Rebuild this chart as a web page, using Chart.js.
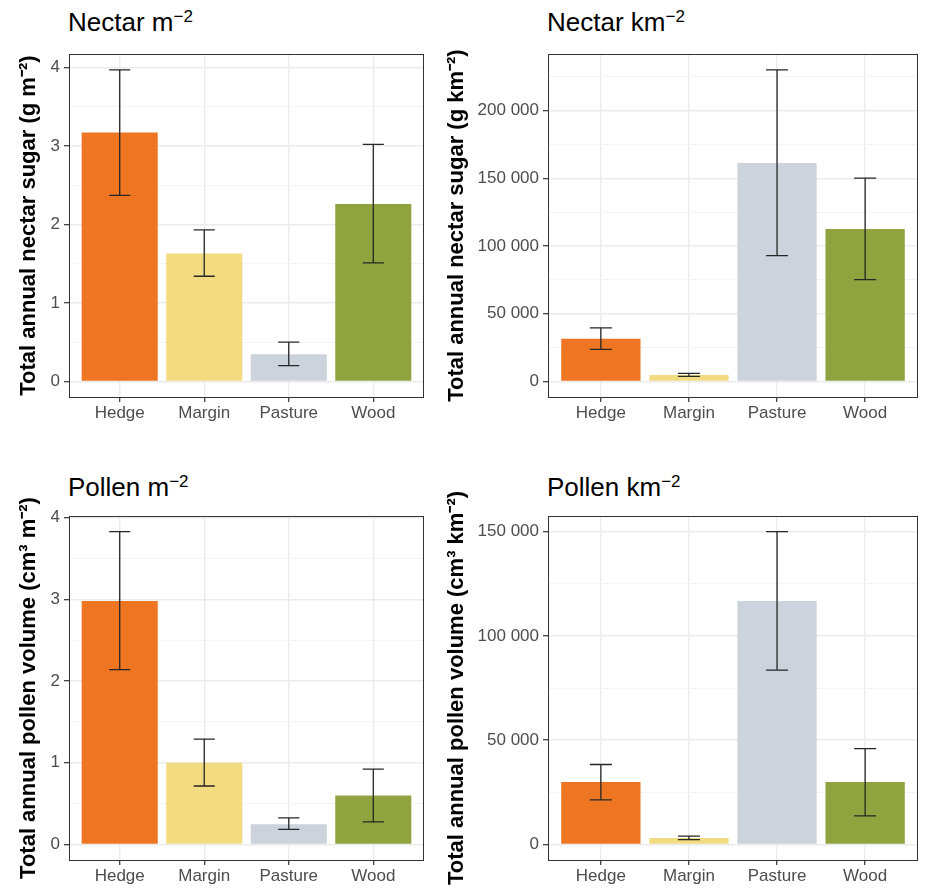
<!DOCTYPE html>
<html>
<head>
<meta charset="utf-8">
<script src="https://cdn.jsdelivr.net/npm/chart.js@4.4.1/dist/chart.umd.min.js"></script>
<style>
body { margin: 0; background: #fff; }
#wrap { position: relative; width: 925px; height: 889px; overflow: hidden; font-family: 'Liberation Sans', Arial, sans-serif; }
canvas { position: absolute; }
.ttl { position: absolute; font-size: 26px; line-height: 26px; color: #000; white-space: nowrap; }
.ttl span { font-size: 17px; position: relative; top: -9px; }
</style>
</head>
<body>
<div id="wrap">
  <div class="ttl" style="left:68px;top:9px">Nectar m<span>−2</span></div>
  <div class="ttl" style="left:547px;top:9px">Nectar km<span>−2</span></div>
  <div class="ttl" style="left:68px;top:474px">Pollen m<span>−2</span></div>
  <div class="ttl" style="left:547px;top:474px">Pollen km<span>−2</span></div>
  <canvas id="c1" width="440" height="405" style="left:0;top:40px"></canvas>
  <canvas id="c2" width="485" height="405" style="left:440px;top:40px"></canvas>
  <canvas id="c3" width="440" height="409" style="left:0;top:480px"></canvas>
  <canvas id="c4" width="485" height="409" style="left:440px;top:480px"></canvas>
</div>
<script>
var categories = ["Hedge", "Margin", "Pasture", "Wood"];
var barColors = ["#EE7623", "#F3DB82", "#CDD3DC", "#8FA43F"];

// nectar per m2
var nectarM2 = [3.17, 1.63, 0.345, 2.26];
var nectarM2Low = [2.37, 1.34, 0.20, 1.51];
var nectarM2High = [3.97, 1.93, 0.50, 3.02];
var nectarM2Ticks = [0, 1, 2, 3, 4];

// nectar per km2
var nectarKm2 = [31500, 4800, 161500, 112600];
var nectarKm2Low = [23700, 3700, 93000, 75200];
var nectarKm2High = [39600, 5900, 230300, 150200];
var nectarKm2Ticks = [0, 50000, 100000, 150000, 200000];

// pollen per m2
var pollenM2 = [2.98, 1.0, 0.247, 0.597];
var pollenM2Low = [2.14, 0.715, 0.183, 0.276];
var pollenM2High = [3.83, 1.29, 0.325, 0.922];
var pollenM2Ticks = [0, 1, 2, 3, 4];

// pollen per km2
var pollenKm2 = [29900, 3000, 116700, 29900];
var pollenKm2Low = [21300, 2240, 83600, 13700];
var pollenKm2High = [38300, 3960, 150000, 45900];
var pollenKm2Ticks = [0, 50000, 100000, 150000];

Chart.defaults.font.family = "'Liberation Sans', Arial, sans-serif";
Chart.defaults.color = "#4d4d4d";

function fmt(v) {
    return String(v).replace(/\B(?=(\d{3})+(?!\d))/g, " ");
}

var frame = {
    id: "frame",
    afterDraw: function (chart) {
        var a = chart.chartArea, ctx = chart.ctx;
        ctx.save();
        ctx.strokeStyle = "#333333";
        ctx.lineWidth = 1;
        ctx.strokeRect(Math.round(a.left) + 0.5, Math.round(a.top) + 0.5,
            Math.round(a.right - a.left) - 1, Math.round(a.bottom - a.top));
        ctx.restore();
    }
};

function errorBars(low, high) {
    return {
        id: "errbars",
        afterDatasetsDraw: function (chart) {
            var x = chart.scales.x, y = chart.scales.y, ctx = chart.ctx;
            var cap = (x.getPixelForValue(2) - x.getPixelForValue(1)) * 0.125;
            ctx.save();
            ctx.strokeStyle = "#262626";
            ctx.lineWidth = 1.3;
            for (var i = 0; i < categories.length; i++) {
                var px = x.getPixelForValue(i + 1);
                var y1 = y.getPixelForValue(high[i]);
                var y2 = y.getPixelForValue(low[i]);
                ctx.beginPath();
                ctx.moveTo(px, y1); ctx.lineTo(px, y2);
                ctx.moveTo(px - cap, y1); ctx.lineTo(px + cap, y1);
                ctx.moveTo(px - cap, y2); ctx.lineTo(px + cap, y2);
                ctx.stroke();
            }
            ctx.restore();
        }
    };
}

function makePanel(id, values, low, high, majors, yTitle, p) {
    var lo = Math.min(0, Math.min.apply(null, low));
    var hi = Math.max.apply(null, high);
    var pad = (hi - lo) * 0.05;
    var yMin = lo - pad, yMax = hi + pad;
    var step = majors[1] - majors[0];
    var allTicks = [];
    majors.forEach(function (m) {
        allTicks.push(m);
        if (m + step / 2 < yMax) allTicks.push(m + step / 2);
    });

    new Chart(id, {
        type: "bar",
        data: {
            datasets: [{
                data: values.map(function (v, i) { return { x: i + 1, y: v }; }),
                backgroundColor: barColors,
                borderWidth: 0,
                barPercentage: 0.9,
                categoryPercentage: 1
            }]
        },
        options: {
            responsive: false,
            animation: false,
            events: [],
            layout: { padding: { top: p.padTop, right: p.padRight, left: 0, bottom: 0 } },
            plugins: { legend: { display: false }, tooltip: { enabled: false } },
            scales: {
                x: {
                    type: "linear",
                    min: 0.4,
                    max: 4.6,
                    offset: false,
                    afterBuildTicks: function (s) {
                        s.ticks = categories.map(function (c, i) { return { value: i + 1 }; });
                    },
                    afterFit: function (s) { s.height = p.xH; },
                    border: { display: false },
                    grid: { offset: false, color: "#ebebeb", lineWidth: 1.4, tickLength: 5, tickColor: "#333333", tickWidth: 1.2 },
                    ticks: {
                        padding: 1,
                        maxRotation: 0,
                        autoSkip: false,
                        font: { size: 17 },
                        color: "#4d4d4d",
                        callback: function (v) { return categories[v - 1]; }
                    }
                },
                y: {
                    min: yMin,
                    max: yMax,
                    afterBuildTicks: function (s) {
                        s.ticks = allTicks.map(function (v) { return { value: v }; });
                    },
                    afterFit: function (s) { s.width = p.yW; },
                    border: { display: false },
                    grid: {
                        tickLength: 5,
                        tickWidth: 1.2,
                        color: function (c) { return majors.indexOf(c.tick.value) >= 0 ? "#ebebeb" : "#f4f4f4"; },
                        lineWidth: function (c) { return majors.indexOf(c.tick.value) >= 0 ? 1.4 : 1; },
                        tickColor: function (c) { return majors.indexOf(c.tick.value) >= 0 ? "#333333" : "rgba(0,0,0,0)"; }
                    },
                    ticks: {
                        padding: 4,
                        autoSkip: false,
                        font: { size: 17 },
                        color: "#4d4d4d",
                        callback: function (v) { return majors.indexOf(v) >= 0 ? fmt(v) : ""; }
                    },
                    title: {
                        display: true,
                        text: yTitle,
                        color: "#000",
                        font: { size: 22, weight: "bold" },
                        padding: { top: p.titlePad, bottom: 0 }
                    }
                }
            }
        },
        plugins: [frame, errorBars(low, high)]
    });
}

makePanel("c1", nectarM2, nectarM2Low, nectarM2High, nectarM2Ticks,
    "Total annual nectar sugar (g m⁻²)", { padTop: 12, padRight: 16, xH: 48, yW: 69, titlePad: 16 });
makePanel("c2", nectarKm2, nectarKm2Low, nectarKm2High, nectarKm2Ticks,
    "Total annual nectar sugar (g km⁻²)", { padTop: 12, padRight: 7, xH: 48, yW: 108, titlePad: 4 });
makePanel("c3", pollenM2, pollenM2Low, pollenM2High, pollenM2Ticks,
    "Total annual pollen volume (cm³ m⁻²)", { padTop: 36, padRight: 16, xH: 29, yW: 69, titlePad: 16 });
makePanel("c4", pollenKm2, pollenKm2Low, pollenKm2High, pollenKm2Ticks,
    "Total annual pollen volume (cm³ km⁻²)", { padTop: 36, padRight: 7, xH: 29, yW: 108, titlePad: 4 });
</script>
</body>
</html>
